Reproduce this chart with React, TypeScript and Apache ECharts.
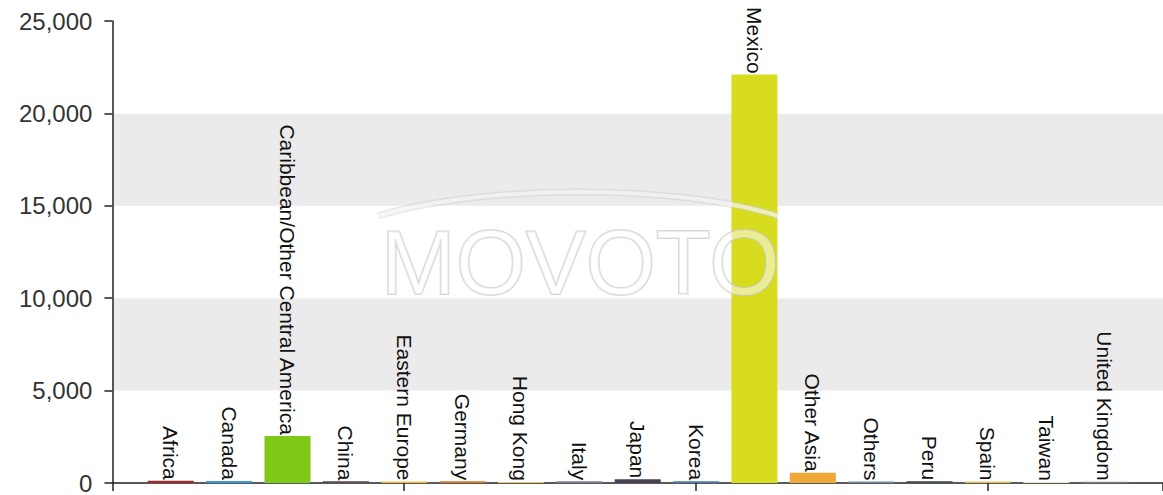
import React, { useEffect, useRef } from "react";
import * as echarts from "echarts";

const categories = [
  "Africa",
  "Canada",
  "Caribbean/Other Central America",
  "China",
  "Eastern Europe",
  "Germany",
  "Hong Kong",
  "Italy",
  "Japan",
  "Korea",
  "Mexico",
  "Other Asia",
  "Others",
  "Peru",
  "Spain",
  "Taiwan",
  "United Kingdom",
];

const values = [120, 110, 2550, 90, 80, 100, 60, 100, 200, 100, 22100, 560, 80, 100, 80, 60, 70];

const palette = [
  "#a52a2a",
  "#3e9ad6",
  "#7ec817",
  "#5a4a4a",
  "#f0c040",
  "#d4782c",
  "#e8c870",
  "#8a7a9a",
  "#4a4055",
  "#4a7fa5",
  "#d7dc1e",
  "#f0a838",
  "#6f90a8",
  "#3d4a40",
  "#e6c45c",
  "#e9e3c5",
  "#7a8a7a",
];

const yTicks = [0, 5000, 10000, 15000, 20000, 25000];

const FONT = "'Liberation Sans', Arial, sans-serif";

export default function App() {
  const ref = useRef<HTMLDivElement>(null);

  useEffect(() => {
    if (!ref.current) return;
    const chart = echarts.init(ref.current, undefined, { renderer: "svg" });
    const arcShape = { x1: 378, y1: 216, cpx1: 480, cpy1: 184, cpx2: 680, cpy2: 184, x2: 778, y2: 216 };
    const option: any = {
      animation: false,
      backgroundColor: "#ffffff",
      grid: { left: 112.4, right: -9.15, top: 21, bottom: 10, containLabel: false },
      xAxis: {
        type: "value",
        min: 0,
        max: 18,
        interval: 5,
        axisLine: { show: true, lineStyle: { color: "#222", width: 1.5 } },
        axisTick: { show: true, length: 8, lineStyle: { color: "#222", width: 1.5 } },
        axisLabel: { show: false },
        splitLine: { show: false },
      },
      yAxis: {
        type: "value",
        min: yTicks[0],
        max: yTicks[yTicks.length - 1],
        interval: 5000,
        axisLine: { show: true, lineStyle: { color: "#222", width: 1.5 } },
        axisTick: { show: true, length: 8, lineStyle: { color: "#222", width: 1.5 } },
        axisLabel: {
          margin: 20,
          fontSize: 24,
          color: "#333",
          fontFamily: FONT,
          formatter: (v: number) => v.toLocaleString("en-US"),
        },
        splitLine: { show: false },
        splitArea: { show: true, areaStyle: { color: ["#ffffff", "#ebebeb"] } },
      },
      graphic: [
        {
          type: "bezierCurve",
          z: 100,
          shape: arcShape,
          style: { stroke: "rgba(205,205,205,0.45)", lineWidth: 7, fill: null },
        },
        {
          type: "bezierCurve",
          z: 101,
          shape: arcShape,
          style: { stroke: "rgba(255,255,255,0.6)", lineWidth: 4, fill: null },
        },
        {
          type: "text",
          z: 102,
          x: 580,
          y: 263,
          style: {
            text: "MOVOTO",
            font: "90px " + FONT,
            fill: "rgba(255,255,255,0.5)",
            stroke: "rgba(200,200,200,0.7)",
            lineWidth: 2,
            textAlign: "center",
            textVerticalAlign: "middle",
            align: "center",
            verticalAlign: "middle",
          },
        },
      ],
      series: [
        {
          type: "bar",
          barWidth: 46,
          data: categories.map((c, i) => ({
            value: [i + 1, values[i]],
            name: c,
            itemStyle: { color: palette[i] },
          })),
          label: {
            show: true,
            position: "top",
            rotate: -90,
            align: "right",
            verticalAlign: "middle",
            distance: 1,
            fontSize: 21,
            color: "#111",
            fontFamily: FONT,
            formatter: (p: any) => categories[p.dataIndex],
          },
        },
      ],
    };
    chart.setOption(option);
    return () => chart.dispose();
  }, []);

  return (
    <div
      ref={ref}
      style={{ position: "absolute", left: 0, top: 0, width: 1163, height: 495, overflow: "hidden" }}
    />
  );
}
